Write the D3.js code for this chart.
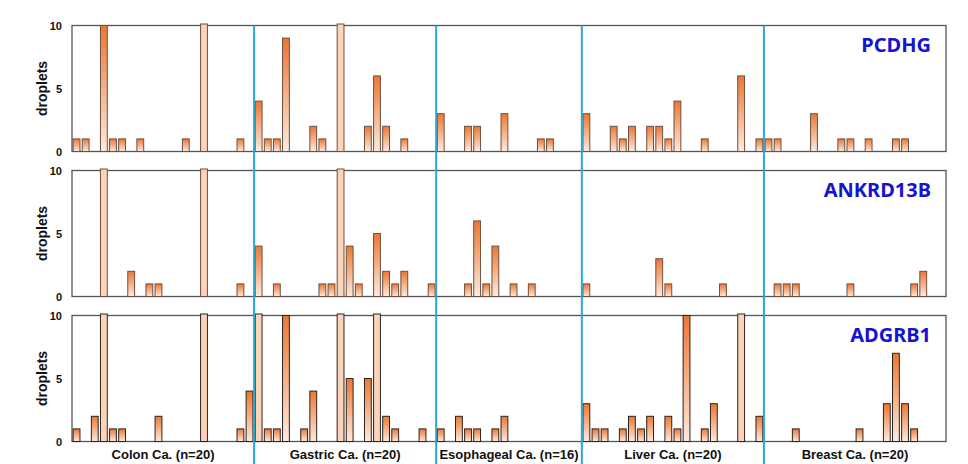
<!DOCTYPE html>
<html>
<head>
<meta charset="utf-8">
<script src="https://cdn.jsdelivr.net/npm/d3@7"></script>
<style>
  body { margin: 0; background: #fff; }
  svg { display: block; }
  .tick text { font-family: "Liberation Sans", Arial, sans-serif; font-weight: bold; font-size: 11px; fill: #111; }
</style>
</head>
<body>
<svg id="chart" width="968" height="464"></svg>
<script>
// cancer groups, in sample order
var groups = ["Colon Ca. (n=20)", "Gastric Ca. (n=20)", "Esophageal Ca. (n=16)", "Liver Ca. (n=20)", "Breast Ca. (n=20)"];
var groupSizes = [20, 20, 16, 20, 20];
var genes = ["PCDHG", "ANKRD13B", "ADGRB1"];
var yTicks = [0, 5, 10];

// droplet counts per sample (colon | gastric | esophageal | liver | breast)
var pcdhg = [
  1,1,0,10,1,1,0,1,0,0,0,0,1,0,10,0,0,0,1,0,
  4,1,1,9,0,0,2,1,0,10,0,0,2,6,2,0,1,0,0,0,
  3,0,0,2,2,0,0,3,0,0,0,1,1,0,0,0,
  3,0,0,2,1,2,0,2,2,1,4,0,0,1,0,0,0,6,0,1,
  1,1,0,0,0,3,0,0,1,1,0,1,0,0,1,1,0,0,0,0
];
var ankrd13b = [
  0,0,0,10,0,0,2,0,1,1,0,0,0,0,10,0,0,0,1,0,
  4,0,1,0,0,0,0,1,1,10,4,1,0,5,2,1,2,0,0,1,
  0,0,0,1,6,1,4,0,1,0,1,0,0,0,0,0,
  1,0,0,0,0,0,0,0,3,1,0,0,0,0,0,1,0,0,0,0,
  0,1,1,1,0,0,0,0,0,1,0,0,0,0,0,0,1,2,0,0
];
var adgrb1 = [
  1,0,2,10,1,1,0,0,0,2,0,0,0,0,10,0,0,0,1,4,
  10,1,1,10,0,1,4,0,0,10,5,0,5,10,2,1,0,0,1,0,
  1,0,2,1,1,0,1,2,0,0,0,0,0,0,0,0,
  3,1,1,0,1,2,1,2,0,2,1,10,0,1,3,0,0,10,0,2,
  0,0,0,1,0,0,0,0,0,0,1,0,0,3,7,3,1,0,0,0
];
// samples above the axis maximum (drawn pale)
var pcdhgOver = [14, 29];
var ankrd13bOver = [3, 14, 29];
var adgrb1Over = [3, 14, 20, 29, 33, 73];

var panels = [
  {gene: genes[0], values: pcdhg, over: pcdhgOver, top: 25.5, stroke: "#6a5142"},
  {gene: genes[1], values: ankrd13b, over: ankrd13bOver, top: 170.5, stroke: "#6a5142"},
  {gene: genes[2], values: adgrb1, over: adgrb1Over, top: 315.5, stroke: "#2a2420"}
];
var panelH = 126;
var nSamples = d3.sum(groupSizes);

var svg = d3.select("#chart");

var defs = svg.append("defs");
var grad = defs.append("linearGradient")
  .attr("id", "barGrad")
  .attr("x1", 0).attr("y1", 0).attr("x2", 0).attr("y2", 1);
grad.append("stop").attr("offset", "0%").attr("stop-color", "#ee7631");
grad.append("stop").attr("offset", "100%").attr("stop-color", "#fdeadd");

var x = d3.scaleBand()
  .domain(d3.range(nSamples))
  .range([72, 946])
  .paddingInner(0.25)
  .paddingOuter(0.125);

var step = x.step();
var ends = Array.from(d3.cumsum(groupSizes));
var boundaries = ends.slice(0, -1);
var starts = [0].concat(boundaries);

panels.forEach(function (p) {
  var y = d3.scaleLinear().domain([0, 10]).range([p.top + panelH, p.top]);
  var g = svg.append("g");

  g.append("rect")
    .attr("x", 72).attr("y", p.top)
    .attr("width", 946 - 72).attr("height", panelH)
    .attr("fill", "#fff")
    .attr("stroke", "#555").attr("stroke-width", 1.3);

  var axis = g.append("g")
    .attr("transform", "translate(72,0)")
    .call(d3.axisLeft(y).tickValues(yTicks).tickSize(0).tickPadding(10));
  axis.select(".domain").remove();

  g.append("text")
    .attr("transform", "translate(47," + (p.top + panelH / 2) + ") rotate(-90)")
    .attr("text-anchor", "middle")
    .style("font-family", "'Liberation Sans', Arial, sans-serif")
    .style("font-weight", "bold")
    .style("font-size", "14px")
    .attr("fill", "#111")
    .text("droplets");

  var bars = p.values.map(function (v, i) {
    return {i: i, v: v, over: p.over.indexOf(i) >= 0};
  }).filter(function (d) { return d.v > 0; });

  g.selectAll("rect.bar")
    .data(bars)
    .enter().append("rect")
    .attr("class", "bar")
    .attr("x", function (d) { return x(d.i); })
    .attr("y", function (d) { return d.over ? y(d.v) - 1.5 : y(d.v); })
    .attr("width", x.bandwidth())
    .attr("height", function (d) { return y(0) - y(d.v) + (d.over ? 1.5 : 0); })
    .attr("fill", function (d) { return d.over ? "#fcd3b9" : "url(#barGrad)"; })
    .attr("stroke", p.stroke)
    .attr("stroke-width", 1);

  g.append("text")
    .attr("x", 931).attr("y", p.top + 26.5)
    .attr("text-anchor", "end")
    .style("font-family", "'Noto Sans', sans-serif")
    .style("font-weight", "bold")
    .style("font-size", "20px")
    .attr("fill", "#1414d2")
    .text(p.gene);
});

// group separators
svg.selectAll("line.sep")
  .data(boundaries)
  .enter().append("line")
  .attr("class", "sep")
  .attr("x1", function (b) { return x.range()[0] + b * step; })
  .attr("x2", function (b) { return x.range()[0] + b * step; })
  .attr("y1", panels[0].top)
  .attr("y2", 464)
  .attr("stroke", "#2ba6d5")
  .attr("stroke-width", 2);

// group labels
svg.selectAll("text.grp")
  .data(groups)
  .enter().append("text")
  .attr("class", "grp")
  .attr("x", function (d, i) { return x.range()[0] + (starts[i] + groupSizes[i] / 2) * step; })
  .attr("y", 459)
  .attr("text-anchor", "middle")
  .style("font-family", "'Liberation Sans', Arial, sans-serif")
  .style("font-weight", "bold")
  .style("font-size", "13px")
  .attr("fill", "#111")
  .text(function (d) { return d; });
</script>
</body>
</html>
